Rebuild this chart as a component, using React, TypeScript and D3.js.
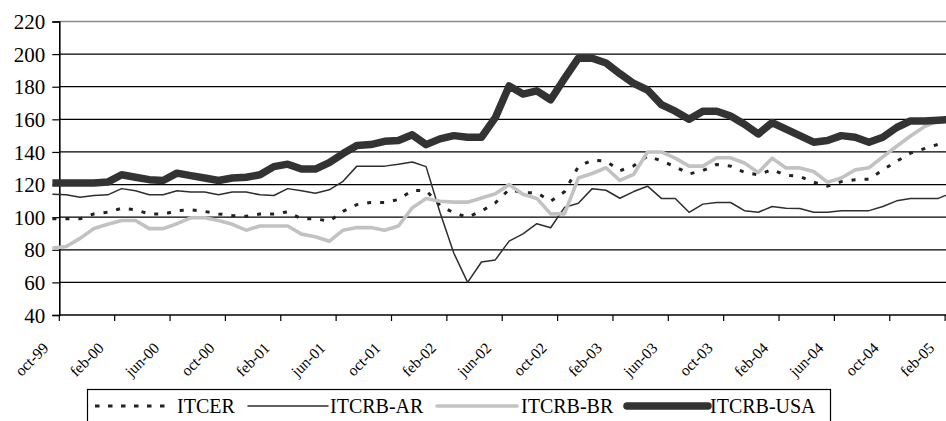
import React, { useRef, useEffect } from 'react';
import * as d3 from 'd3';

// monthly values, oct-99 .. mar-05
const itcer = [
  99, 99, 99, 102, 103, 105.5, 104.5, 102, 101.8, 104, 104.5, 103.5, 102, 101, 100.5, 102,
  102, 103.3, 99, 99, 97.5, 103.6, 107.7, 109, 109, 110.8, 116.3, 116.3, 107.3, 102.6, 100, 103.7,
  108.8, 117, 115, 115, 109.8, 115.6, 131, 135, 134.3, 128.5, 131.5, 137.5, 134.5, 131, 126.5, 128.6,
  132.3, 131.3, 127.5, 126, 129.2, 125.7, 125, 121.5, 119, 121.8, 123, 123.3, 129, 134.3, 139.3, 142,
  144.7, 147,
];
const itcrbAr = [
  114, 113.7, 112.2, 113.3, 113.7, 117.5, 116.2, 113.7, 113.7, 116.2, 115.4, 115.4, 113.7, 115.4, 115.4, 113.7,
  113.3, 117.5, 116.2, 114.7, 116.8, 122, 131.3, 131.3, 131.3, 132.4, 133.8, 131, 103, 78, 60, 72.5,
  73.8, 85.3, 89.8, 96, 93.5, 106, 108.5, 117.5, 116.5, 111.6, 115.7, 119, 111.5, 111.5, 103, 108,
  109, 109, 104, 103, 106.5, 105.5, 105.3, 103, 103, 104, 104, 104, 106.5, 110, 111.5, 111.5,
  111.5, 115,
];
const itcrbBr = [
  81, 82, 87, 93, 95.6, 98, 98, 93, 93, 96, 99.6, 99.6, 98, 95.6, 92, 94.6,
  94.6, 94.6, 89.6, 88, 85.2, 92, 93.6, 93.6, 92, 94.6, 105.7, 111.4, 109.8, 109.2, 109.2, 111.8,
  114.3, 120, 114, 111.5, 102, 102, 124, 126.8, 130.3, 122.5, 126.3, 140, 140, 136.2, 131.3, 131.3,
  136.4, 136.4, 133.2, 127.4, 136.2, 130.2, 130.2, 128, 121.5, 124, 129, 130.3, 137, 143.5, 149.8, 155.5,
  159, 161,
];
const itcrbUsa = [
  121, 121, 121, 121, 121.5, 126, 124.5, 123, 122.5, 127, 125.5, 124, 122.5, 124, 124.5, 126,
  131, 132.5, 129.5, 129.5, 133.5, 139, 144, 144.5, 146.5, 147, 150.5, 144.5, 148, 150, 149, 149,
  161, 180.5, 175.5, 177.5, 172, 185, 197.5, 197.5, 194.5, 188, 182, 178, 169, 165, 160, 165,
  165, 162, 157, 151, 158, 154, 150, 146, 147, 150, 149, 146, 149, 155, 159, 159,
  159.5, 160,
];

const tickLabels = [
  'oct-99', 'feb-00', 'jun-00', 'oct-00', 'feb-01', 'jun-01', 'oct-01', 'feb-02', 'jun-02',
  'oct-02', 'feb-03', 'jun-03', 'oct-03', 'feb-04', 'jun-04', 'oct-04', 'feb-05',
];
const yTicks = [40, 60, 80, 100, 120, 140, 160, 180, 200, 220];

const seriesNames = ['ITCER', 'ITCRB-AR', 'ITCRB-BR', 'ITCRB-USA'];

const App = () => {
  const chartRef = useRef<SVGSVGElement>(null);

  useEffect(() => {
    const font = "'Times New Roman', Times, 'DejaVu Serif', serif";
    const left = 59.3;
    const right = 946;

    const x = d3.scaleLinear().domain([0, 64]).range([52.4, 938.2]);
    const y = d3.scaleLinear().domain([40, 220]).range([315, 21.5]);

    const svg = d3.select(chartRef.current);
    svg.selectAll('*').remove();

    svg.append('rect').attr('width', 946).attr('height', 421).attr('fill', '#fff');

    // grid lines
    svg.append('g')
      .selectAll('line')
      .data(yTicks.filter(v => v > 40))
      .enter().append('line')
      .attr('x1', left).attr('x2', right)
      .attr('y1', d => y(d)).attr('y2', d => y(d))
      .attr('stroke', d => (d === 220 ? '#8c8c8c' : '#000'))
      .attr('stroke-width', d => (d === 220 ? 1.5 : 1.2));

    // y axis
    const yAxis = svg.append('g').attr('transform', `translate(${left},0)`)
      .call(d3.axisLeft(y).tickValues(yTicks).tickSize(7).tickPadding(7))
      .attr('font-family', null).attr('font-size', null);
    yAxis.select('.domain').attr('stroke', '#000').attr('stroke-width', 1.6);
    yAxis.selectAll('.tick line').attr('stroke', '#000').attr('stroke-width', 1.2);
    yAxis.selectAll('.tick text')
      .style('font-family', font).style('font-size', '21px').attr('fill', '#000')
      .attr('dy', '0.34em');

    // x axis
    svg.append('line')
      .attr('x1', left).attr('x2', right).attr('y1', y(40)).attr('y2', y(40))
      .attr('stroke', '#000').attr('stroke-width', 1.6);
    svg.append('g')
      .selectAll('line')
      .data(tickLabels)
      .enter().append('line')
      .attr('x1', (d, k) => x(k * 4 + 0.5)).attr('x2', (d, k) => x(k * 4 + 0.5))
      .attr('y1', y(40)).attr('y2', y(40) + 6)
      .attr('stroke', '#000').attr('stroke-width', 1.2);
    svg.append('g')
      .selectAll('text')
      .data(tickLabels)
      .enter().append('text')
      .attr('transform', (d, k) => `translate(${x(k * 4) - 3},349) rotate(-45)`)
      .attr('text-anchor', 'end')
      .style('font-family', font).style('font-size', '15.5px').attr('fill', '#000')
      .text(d => d);

    // series
    const styles = [
      { data: itcer, color: '#222', width: 3, dash: '4 9' },
      { data: itcrbAr, color: '#2e2e2e', width: 1.5, dash: null },
      { data: itcrbBr, color: '#c2c2c2', width: 3.6, dash: null },
      { data: itcrbUsa, color: '#333', width: 7.5, dash: null },
    ];
    const line = d3.line<number>().x((d, i) => x(i)).y(d => y(d));
    styles.forEach(s => {
      svg.append('path')
        .datum(s.data)
        .attr('d', line)
        .attr('fill', 'none')
        .attr('stroke', s.color)
        .attr('stroke-width', s.width)
        .attr('stroke-linejoin', 'round')
        .attr('stroke-dasharray', s.dash);
    });

    // legend
    const legend = svg.append('g');
    legend.append('rect')
      .attr('x', 87.5).attr('y', 389.5).attr('width', 743).attr('height', 60)
      .attr('fill', '#fff').attr('stroke', '#000').attr('stroke-width', 1.2);
    const samples = [[95, 173], [248, 328], [437, 517], [627, 708]];
    const textX = [177, 330, 521, 710];
    styles.forEach((s, i) => {
      legend.append('line')
        .attr('x1', samples[i][0]).attr('x2', samples[i][1])
        .attr('y1', 406).attr('y2', 406)
        .attr('stroke', s.color)
        .attr('stroke-width', s.width)
        .attr('stroke-linecap', s.dash ? 'butt' : 'round')
        .attr('stroke-dasharray', s.dash ? '4.5 8.5' : null);
      legend.append('text')
        .attr('x', textX[i]).attr('y', 413)
        .style('font-family', font).style('font-size', '20px').attr('fill', '#000')
        .text(seriesNames[i]);
    });
  }, []);

  return (
    <svg ref={chartRef} width={946} height={421}
      style={{ position: 'absolute', left: 0, top: 0, display: 'block' }}></svg>
  );
};

export default App;
